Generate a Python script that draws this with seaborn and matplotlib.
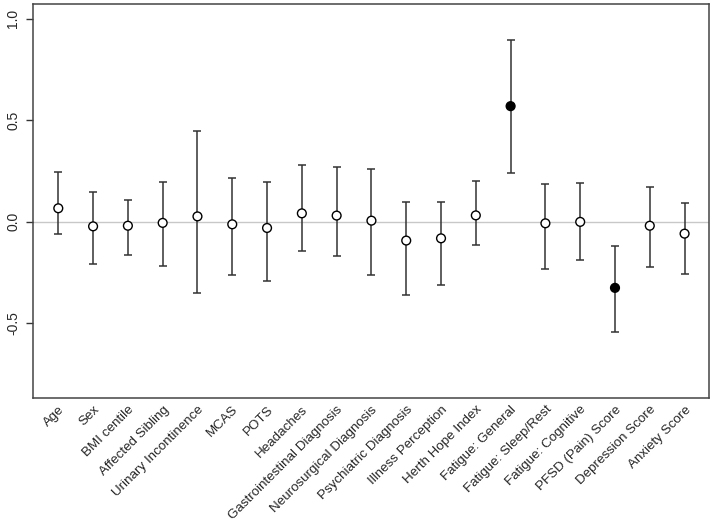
import numpy as np
import pandas as pd
import matplotlib
matplotlib.use("Agg")
import matplotlib.pyplot as plt
import seaborn as sns

# Estimates with confidence intervals
variables = ["Age", "Sex", "BMI centile", "Affected Sibling", "Urinary Incontinence",
             "MCAS", "POTS", "Headaches", "Gastrointestinal Diagnosis",
             "Neurosurgical Diagnosis", "Psychiatric Diagnosis", "Illness Perception",
             "Herth Hope Index", "Fatigue: General", "Fatigue: Sleep/Rest",
             "Fatigue: Cognitive", "PFSD (Pain) Score", "Depression Score", "Anxiety Score"]
estimate = [0.066, -0.023, -0.020, -0.006, 0.026, -0.013, -0.031, 0.041, 0.030,
            0.005, -0.093, -0.082, 0.031, 0.569, -0.008, -0.001, -0.326, -0.020, -0.059]
lower = [-0.062, -0.210, -0.162, -0.218, -0.351, -0.261, -0.293, -0.143, -0.169,
         -0.261, -0.361, -0.310, -0.113, 0.240, -0.234, -0.188, -0.541, -0.224, -0.256]
upper = [0.244, 0.146, 0.108, 0.197, 0.448, 0.213, 0.194, 0.277, 0.269,
         0.258, 0.097, 0.095, 0.202, 0.894, 0.187, 0.190, -0.118, 0.171, 0.093]

df = pd.DataFrame({"variable": variables, "estimate": estimate,
                   "lower": lower, "upper": upper})
df["pos"] = np.arange(len(df))
df["significant"] = (df["lower"] > 0) | (df["upper"] < 0)

sns.set_style("ticks")
plt.rcParams["font.family"] = ["Liberation Sans", "DejaVu Sans"]

fig, ax = plt.subplots(figsize=(7.15, 5.28), dpi=100)
fig.subplots_adjust(left=0.046, right=0.992, top=0.992, bottom=0.246)

ax.axhline(0, color="#c8c8c8", lw=1, zorder=0)

ax.errorbar(df["pos"], df["estimate"],
            yerr=[df["estimate"] - df["lower"], df["upper"] - df["estimate"]],
            fmt="none", ecolor="#333333", elinewidth=1.1, capsize=2.8,
            capthick=1.1, zorder=1)

sns.scatterplot(data=df, x="pos", y="estimate", hue="significant",
                palette={False: "white", True: "black"}, edgecolor="black",
                linewidth=1.0, s=40, legend=False, zorder=3, ax=ax)

ax.set_xlim(-0.73, 18.71)
ax.set_ylim(-0.869, 1.071)
ax.set_xticks(df["pos"])
ax.set_xticklabels(df["variable"], rotation=45, ha="right",
                   rotation_mode="anchor", fontsize=9.6)
ax.tick_params(axis="x", length=0, pad=4)
ax.set_yticks([-0.5, 0.0, 0.5, 1.0])
ax.set_yticklabels(["-0.5", "0.0", "0.5", "1.0"], rotation=90, va="center",
                   fontsize=10)
ax.tick_params(axis="y", length=5, width=1, color="#333333", pad=4)
ax.set_xlabel("")
ax.set_ylabel("")
for s in ax.spines.values():
    s.set_visible(True)
    s.set_color("#444444")
    s.set_linewidth(1.1)

fig.savefig("out.png", dpi=100)
